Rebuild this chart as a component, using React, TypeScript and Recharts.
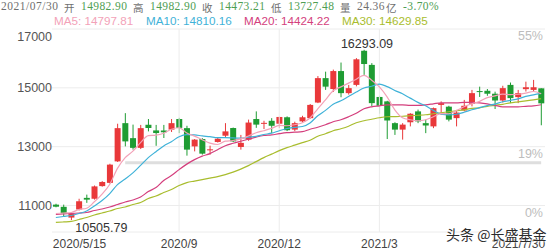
import React from "react";
import {
  ComposedChart,
  Bar,
  Line,
  XAxis,
  YAxis,
  CartesianGrid,
  ReferenceLine,
  ReferenceDot,
} from "recharts";

// weekly candles, 2020/5/15 .. 2021/7/30
const dates = [
  "2020/5/15", "2020/5/22", "2020/5/29", "2020/6/5", "2020/6/12", "2020/6/19", "2020/6/26", "2020/7/3",
  "2020/7/10", "2020/7/17", "2020/7/24", "2020/7/31", "2020/8/7", "2020/8/14", "2020/8/21", "2020/8/28",
  "2020/9/4", "2020/9/11", "2020/9/18", "2020/9/25", "2020/10/2", "2020/10/9", "2020/10/16", "2020/10/23",
  "2020/10/30", "2020/11/6", "2020/11/13", "2020/11/20", "2020/11/27", "2020/12/4", "2020/12/11", "2020/12/18",
  "2020/12/25", "2021/1/1", "2021/1/8", "2021/1/15", "2021/1/22", "2021/1/29", "2021/2/5", "2021/2/12",
  "2021/2/19", "2021/2/26", "2021/3/5", "2021/3/12", "2021/3/19", "2021/3/26", "2021/4/2", "2021/4/9",
  "2021/4/16", "2021/4/23", "2021/4/30", "2021/5/7", "2021/5/14", "2021/5/21", "2021/5/28", "2021/6/4",
  "2021/6/11", "2021/6/18", "2021/6/25", "2021/7/2", "2021/7/9", "2021/7/16", "2021/7/23", "2021/7/30",
];

const opens = [
  11030, 10956, 10590, 10865, 11260, 11230, 11660, 11770, 12500, 13800,
  13290, 12960, 13745, 13553, 13550, 13580, 13940, 13630, 13010, 13260,
  12880, 13160, 13373, 13634, 12990, 13240, 13940, 13780, 13880, 13780,
  14000, 13580, 13860, 13970, 14500, 15330, 14960, 15570, 14820, 15100,
  16260, 15780, 14690, 14540, 13800, 13580, 13830, 14200, 13800, 13690,
  14420, 14360, 13970, 14230, 14460, 14890, 14900, 14800, 14570, 15100,
  14685, 14955, 14930, 14982.9,
];
const highs = [
  11060, 11030, 10760, 11230, 11370, 11680, 11830, 12420, 13780, 14140,
  13750, 13740, 13940, 13740, 13740, 13940, 13980, 13710, 13260, 13290,
  13034, 13310, 13800, 13650, 13400, 13920, 14200, 13880, 13970, 14020,
  14030, 13850, 14050, 14450, 15400, 15550, 15620, 15860, 15100, 16010,
  16293.09, 15840, 14730, 14560, 13830, 13800, 14140, 14260, 13915, 14330,
  14540, 14390, 14250, 14590, 14930, 15040, 14960, 14870, 15070, 15180,
  14930, 15210, 15270, 14982.9,
];
const lows = [
  10940, 10640, 10505.79, 10830, 11090, 11200, 11640, 11750, 12480, 13010,
  12900, 12920, 13520, 13030, 13295, 13500, 13460, 12695, 12840, 12730,
  12729, 13140, 13330, 13160, 12900, 13200, 13640, 13600, 13460, 13634,
  13530, 13530, 13830, 13950, 14480, 14930, 14860, 14680, 14770, 15050,
  15440, 14370, 14120, 13260, 13400, 13240, 13690, 13800, 13460, 13630,
  14085, 13860, 13690, 14200, 14370, 14690, 14730, 14280, 14500, 14480,
  14480, 14875, 14880, 13727.48,
];
const closes = [
  10960, 10730, 10730, 11145, 11200, 11650, 11800, 12390, 13630, 13180,
  12960, 13630, 13635, 13464, 13490, 13800, 13640, 12900, 13240, 12763,
  12910, 13270, 13520, 13180, 13130, 13820, 13750, 13810, 13710, 14010,
  13560, 13800, 14000, 14420, 15330, 15040, 15570, 14820, 14990, 15970,
  15810, 14480, 14390, 13890, 13580, 13750, 14120, 13860, 13720, 14310,
  14480, 13920, 14160, 14390, 14820, 14860, 14800, 14570, 14990, 14650,
  14820, 15020, 15020, 14473.21,
];

const ma5 = [
  10729, 10746, 10763, 10864, 10908, 11129, 11390, 11725, 12261, 12627,
  12848, 13136, 13373, 13390, 13458, 13593, 13644, 13468, 13360, 13237,
  13122, 13075, 13190, 13210, 13264, 13363, 13475, 13543, 13620, 13722,
  13712, 13746, 13814, 13973, 14288, 14593, 14899, 15034, 15160, 15292,
  15427, 15261, 15034, 14695, 14254, 13983, 13915, 13881, 13915, 14017,
  14125, 14119, 14227, 14356, 14458, 14539, 14668, 14729, 14787, 14770,
  14783, 14820, 14875, 14797.81,
];
const ma10 = [
  10593, 10627, 10661, 10729, 10814, 10983, 11170, 11407, 11712, 11902,
  12108, 12363, 12627, 12831, 13024, 13170, 13339, 13407, 13400, 13366,
  13339, 13305, 13305, 13298, 13288, 13322, 13353, 13414, 13458, 13543,
  13617, 13654, 13685, 13807, 14051, 14234, 14441, 14560, 14709, 14858,
  14993, 15055, 15126, 15041, 14912, 14797, 14651, 14505, 14390, 14234,
  14105, 14078, 14102, 14170, 14254, 14329, 14397, 14448, 14526, 14576,
  14627, 14708, 14763, 14810.16,
];
const ma20 = [
  10695, 10712, 10729, 10746, 10763, 10831, 10881, 10949, 11034, 11119,
  11186, 11288, 11475, 11610, 11848, 12017, 12220, 12407, 12559, 12678,
  12763, 12898, 13034, 13115, 13186, 13254, 13325, 13380, 13400, 13441,
  13475, 13492, 13509, 13593, 13661, 13746, 13848, 13915, 14017, 14136,
  14288, 14356, 14390, 14424, 14424, 14424, 14407, 14407, 14424, 14458,
  14492, 14492, 14492, 14509, 14509, 14492, 14458, 14407, 14356, 14356,
  14356, 14373, 14390, 14424.22,
];
const ma30 = [
  10424, 10441, 10458, 10525, 10593, 10678, 10746, 10814, 10898, 10949,
  11034, 11102, 11237, 11322, 11441, 11542, 11678, 11780, 11831, 11881,
  11932, 11983, 12051, 12136, 12237, 12356, 12492, 12627, 12746, 12865,
  12966, 13051, 13136, 13220, 13356, 13441, 13543, 13610, 13695, 13814,
  13882, 13932, 13983, 14017, 14024, 14034, 14051, 14068, 14085, 14119,
  14153, 14187, 14221, 14254, 14305, 14322, 14373, 14407, 14441, 14492,
  14526, 14560, 14593, 14629.85,
];

const tickDates = ["2020/5/15", "2020/9/4", "2020/12/4", "2021/3/5", "2021/7/30"];
const tickTexts = ["2020/5/15", "2020/9", "2020/12", "2021/3", "2021/7/30"];
const gridDates = ["2020/9/4", "2020/12/4", "2021/3/5"];
const priceTicks = [11000, 13000, 15000, 17000];
const pctTicks = [17000, 13000, 11000];
const pctTexts = ["55%", "19%", "0%"];

const RED = "#e9383a";
const GREEN = "#1f9c33";
const C_MA5 = "#f3a2b8";
const C_MA10 = "#3fb2d8";
const C_MA20 = "#d43f7d";
const C_MA30 = "#a9bd2e";
const SANS = "'Liberation Sans', Arial, sans-serif";
const SERIF = "'Liberation Serif', serif";
const CJK = "'Noto Sans CJK SC', sans-serif";

const rows = dates.map((d, i) => ({
  date: d,
  open: opens[i],
  high: highs[i],
  low: lows[i],
  close: closes[i],
  range: [lows[i], highs[i]],
  ma5: ma5[i],
  ma10: ma10[i],
  ma20: ma20[i],
  ma30: ma30[i],
}));

const Candle = (props: any) => {
  const { x, y, width, height, payload } = props;
  if (x == null || y == null) return null;
  const { open, close, high, low } = payload;
  const color = close >= open ? RED : GREEN;
  const top = Math.min(y, y + height);
  const h = Math.abs(height);
  const k = h / (high - low || 1);
  const bodyTop = top + (high - Math.max(open, close)) * k;
  const bodyH = Math.max(1, Math.abs(open - close) * k);
  const cx = x + width / 2;
  return (
    <g>
      <line x1={cx} x2={cx} y1={top} y2={top + h} stroke={color} strokeWidth={1} />
      <rect x={x} y={bodyTop} width={width} height={bodyH} fill={color} />
    </g>
  );
};

const PriceTick = ({ x, y, payload }: any) => (
  <text
    x={x}
    y={y}
    dy={payload.value === 17000 ? 12 : 4.5}
    textAnchor="end"
    fill="#555"
    fontSize={12.5}
    fontFamily={SANS}
  >
    {payload.value}
  </text>
);

const DateTick = ({ x, y, payload }: any) => {
  const i = tickDates.indexOf(payload.value);
  const first = i === 0;
  const last = i === tickDates.length - 1;
  return (
    <text
      x={first ? x - 3 : last ? x + 4 : x}
      y={y}
      dy={16}
      textAnchor={first ? "start" : last ? "end" : "middle"}
      fill="#444"
      fontSize={12}
      fontFamily={SANS}
    >
      {tickTexts[i]}
    </text>
  );
};

const pctLabel = (text: string) => (p: any) => {
  const vb = p.viewBox;
  return (
    <text x={vb.x + vb.width - 2} y={vb.y + 11} textAnchor="end" fill="#bdbdbd" fontSize={12.5} fontFamily={SANS}>
      {text}
    </text>
  );
};

const highLabel = (p: any) => (
  <text x={p.viewBox.x + 3} y={p.viewBox.y - 2} textAnchor="middle" fill="#333" fontSize={12.5} fontFamily={SANS}>
    {highs[40].toFixed(2)}
  </text>
);
const lowLabel = (p: any) => (
  <text x={p.viewBox.x + 4} y={p.viewBox.y + 12} textAnchor="start" fill="#333" fontSize={12.5} fontFamily={SANS}>
    {lows[2].toFixed(2)}
  </text>
);

const span = (left: number, top: number, color: string, text: string, font: string, size: number, ls = 0) => (
  <span
    style={{
      position: "absolute",
      left,
      top,
      color,
      fontFamily: font,
      fontSize: size,
      lineHeight: "normal",
      letterSpacing: ls,
      whiteSpace: "pre",
    }}
  >
    {text}
  </span>
);

export default function App() {
  const g = "#4e9e52";
  const gray = "#6f6f6f";
  return (
    <div
      style={{
        position: "absolute",
        left: 0,
        top: 0,
        width: 554,
        height: 250,
        background: "#fff",
        overflow: "hidden",
      }}
    >
      {span(1, 0, gray, "2021/07/30", SERIF, 11.5, 0.5)}
      {span(64, 0, gray, "开", CJK, 10.5)}
      {span(81, 0, g, "14982.90", SERIF, 11.5, 0.4)}
      {span(133, 0, gray, "高", CJK, 10.5)}
      {span(150, 0, g, "14982.90", SERIF, 11.5, 0.4)}
      {span(202, 0, gray, "收", CJK, 10.5)}
      {span(219, 0, g, "14473.21", SERIF, 11.5, 0.4)}
      {span(271, 0, gray, "低", CJK, 10.5)}
      {span(288, 0, g, "13727.48", SERIF, 11.5, 0.4)}
      {span(340, 0, gray, "量", CJK, 10.5)}
      {span(357, 0, gray, "24.36", SERIF, 11.5, 0.4)}
      {span(386, 0, gray, "亿", CJK, 10.5)}
      {span(403, 0, g, "-3.70%", SERIF, 11.5, 0.4)}

      {span(54, 14, C_MA5, "MA5: 14797.81", SANS, 11.7)}
      {span(146, 14, C_MA10, "MA10: 14810.16", SANS, 11.7)}
      {span(244, 14, C_MA20, "MA20: 14424.22", SANS, 11.7)}
      {span(342, 14, C_MA30, "MA30: 14629.85", SANS, 11.7)}

      <div style={{ position: "absolute", left: 0, top: 0 }}>
        <ComposedChart width={554} height={250} data={rows} margin={{ top: 29, right: 9, bottom: 0, left: 0 }}>
          <CartesianGrid vertical={false} stroke="#ececec" />
          {gridDates.map((d) => (
            <ReferenceLine key={d} x={d} stroke="#ececec" />
          ))}
          <ReferenceLine
            segment={[
              { x: "2020/7/17", y: 12450 },
              { x: "2021/7/30", y: 12450 },
            ]}
            stroke="#dedede"
            strokeWidth={3}
          />
          <XAxis
            dataKey="date"
            ticks={tickDates}
            interval={0}
            tick={<DateTick />}
            tickLine={false}
            axisLine={false}
            tickSize={0}
            tickMargin={0}
            height={18}
          />
          <YAxis
            domain={[10100, 17000]}
            ticks={priceTicks}
            allowDataOverflow
            tick={<PriceTick />}
            tickLine={false}
            axisLine={false}
            tickSize={0}
            tickMargin={0}
            width={52}
          />
          {pctTicks.map((v, i) => (
            <ReferenceLine key={v} y={v} strokeOpacity={0} label={pctLabel(pctTexts[i])} />
          ))}
          <Bar dataKey="range" barSize={6} shape={<Candle />} isAnimationActive={false} />
          <Line type="monotone" dataKey="ma30" stroke={C_MA30} strokeWidth={1.2} dot={false} isAnimationActive={false} />
          <Line type="monotone" dataKey="ma20" stroke={C_MA20} strokeWidth={1.2} dot={false} isAnimationActive={false} />
          <Line type="monotone" dataKey="ma10" stroke={C_MA10} strokeWidth={1.2} dot={false} isAnimationActive={false} />
          <Line type="monotone" dataKey="ma5" stroke={C_MA5} strokeWidth={1.2} dot={false} isAnimationActive={false} />
          <ReferenceDot x="2021/2/19" y={highs[40]} r={0} stroke="none" fill="none" label={highLabel} />
          <ReferenceDot x="2020/5/29" y={lows[2]} r={0} stroke="none" fill="none" label={lowLabel} />
        </ComposedChart>
      </div>

      <span
        style={{
          position: "absolute",
          left: 446,
          top: 225,
          fontFamily: CJK,
          fontSize: 14,
          lineHeight: "18px",
          color: "#2b2b2b",
          textShadow: "0 0 2px #fff, 0 0 2px #fff",
          whiteSpace: "pre",
        }}
      >
        头条 @长盛基金
      </span>
    </div>
  );
}
